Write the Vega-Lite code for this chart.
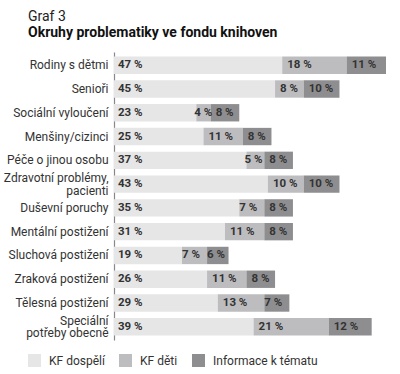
{
  "$schema": "https://vega.github.io/schema/vega-lite/v6.json",
  "autosize": "none",
  "width": 272,
  "height": 288,
  "padding": {"left": 114, "top": 52, "right": 14, "bottom": 34},
  "background": "white",
  "title": {
    "text": "Graf 3",
    "subtitle": "Okruhy problematiky ve fondu knihoven",
    "anchor": "start",
    "frame": "group",
    "dx": -86,
    "offset": 12,
    "font": "Roboto",
    "fontSize": 14,
    "fontWeight": "normal",
    "color": "#222",
    "subtitleFont": "Roboto",
    "subtitleFontSize": 14,
    "subtitleFontWeight": "bold",
    "subtitleColor": "#111",
    "subtitlePadding": 2
  },
  "config": {"view": {"stroke": null}, "font": "Roboto"},
  "data": {
    "values": [
      {"category": "Rodiny s dětmi", "series": "KF dospělí", "order": 1, "value": 47},
      {"category": "Rodiny s dětmi", "series": "KF děti", "order": 2, "value": 18},
      {"category": "Rodiny s dětmi", "series": "Informace k tématu", "order": 3, "value": 11},
      {"category": "Senioři", "series": "KF dospělí", "order": 1, "value": 45},
      {"category": "Senioři", "series": "KF děti", "order": 2, "value": 8},
      {"category": "Senioři", "series": "Informace k tématu", "order": 3, "value": 10},
      {"category": "Sociální vyloučení", "series": "KF dospělí", "order": 1, "value": 23},
      {"category": "Sociální vyloučení", "series": "KF děti", "order": 2, "value": 4},
      {"category": "Sociální vyloučení", "series": "Informace k tématu", "order": 3, "value": 8},
      {"category": "Menšiny/cizinci", "series": "KF dospělí", "order": 1, "value": 25},
      {"category": "Menšiny/cizinci", "series": "KF děti", "order": 2, "value": 11},
      {"category": "Menšiny/cizinci", "series": "Informace k tématu", "order": 3, "value": 8},
      {"category": "Péče o jinou osobu", "series": "KF dospělí", "order": 1, "value": 37},
      {"category": "Péče o jinou osobu", "series": "KF děti", "order": 2, "value": 5},
      {"category": "Péče o jinou osobu", "series": "Informace k tématu", "order": 3, "value": 8},
      {"category": "Zdravotní problémy, pacienti", "series": "KF dospělí", "order": 1, "value": 43},
      {"category": "Zdravotní problémy, pacienti", "series": "KF děti", "order": 2, "value": 10},
      {"category": "Zdravotní problémy, pacienti", "series": "Informace k tématu", "order": 3, "value": 10},
      {"category": "Duševní poruchy", "series": "KF dospělí", "order": 1, "value": 35},
      {"category": "Duševní poruchy", "series": "KF děti", "order": 2, "value": 7},
      {"category": "Duševní poruchy", "series": "Informace k tématu", "order": 3, "value": 8},
      {"category": "Mentální postižení", "series": "KF dospělí", "order": 1, "value": 31},
      {"category": "Mentální postižení", "series": "KF děti", "order": 2, "value": 11},
      {"category": "Mentální postižení", "series": "Informace k tématu", "order": 3, "value": 8},
      {"category": "Sluchová postižení", "series": "KF dospělí", "order": 1, "value": 19},
      {"category": "Sluchová postižení", "series": "KF děti", "order": 2, "value": 7},
      {"category": "Sluchová postižení", "series": "Informace k tématu", "order": 3, "value": 6},
      {"category": "Zraková postižení", "series": "KF dospělí", "order": 1, "value": 26},
      {"category": "Zraková postižení", "series": "KF děti", "order": 2, "value": 11},
      {"category": "Zraková postižení", "series": "Informace k tématu", "order": 3, "value": 8},
      {"category": "Tělesná postižení", "series": "KF dospělí", "order": 1, "value": 29},
      {"category": "Tělesná postižení", "series": "KF děti", "order": 2, "value": 13},
      {"category": "Tělesná postižení", "series": "Informace k tématu", "order": 3, "value": 7},
      {"category": "Speciální potřeby obecně", "series": "KF dospělí", "order": 1, "value": 39},
      {"category": "Speciální potřeby obecně", "series": "KF děti", "order": 2, "value": 21},
      {"category": "Speciální potřeby obecně", "series": "Informace k tématu", "order": 3, "value": 12}
    ]
  },
  "transform": [
    {"stack": "value", "groupby": ["category"], "sort": [{"field": "order", "order": "ascending"}], "as": ["v0", "v1"]}
  ],
  "encoding": {
    "y": {
      "field": "category",
      "type": "nominal",
      "sort": null,
      "title": null,
      "scale": {"paddingInner": 0.27, "paddingOuter": 0.19},
      "axis": {
        "ticks": false,
        "domainColor": "#888",
        "domainWidth": 1.2,
        "labelPadding": 6,
        "labelFontSize": 12,
        "labelColor": "#333",
        "labelLineHeight": 12.5,
        "labelLimit": 200,
        "labelOffset": {"condition": {"test": "datum.value == 'Zdravotní problémy, pacienti' || datum.value == 'Speciální potřeby obecně'", "value": -6}, "value": 0},
        "labelExpr": "datum.label == 'Zdravotní problémy, pacienti' ? ['Zdravotní problémy,', 'pacienti'] : datum.label == 'Speciální potřeby obecně' ? ['Speciální', 'potřeby obecně'] : datum.label"
      }
    }
  },
  "layer": [
    {
      "mark": {"type": "bar"},
      "encoding": {
        "x": {"field": "v0", "type": "quantitative", "scale": {"domain": [0, 76], "nice": false}, "axis": null},
        "x2": {"field": "v1"},
        "color": {
          "field": "series",
          "type": "nominal",
          "sort": ["KF dospělí", "KF děti", "Informace k tématu"],
          "scale": {"domain": ["KF dospělí", "KF děti", "Informace k tématu"], "range": ["#e6e6e7", "#bdbdbf", "#8e8e90"]},
          "legend": {
            "title": null,
            "orient": "none",
            "direction": "horizontal",
            "legendX": -86,
            "legendY": 302,
            "padding": 0,
            "symbolType": "square",
            "symbolSize": 169,
            "symbolStrokeWidth": 0,
            "labelFontSize": 12,
            "labelColor": "#333",
            "labelOffset": 8,
            "columnPadding": 14
          }
        }
      }
    },
    {
      "mark": {
        "type": "text",
        "align": "left",
        "fontSize": 11.5,
        "fontWeight": "bold",
        "color": "#333",
        "dx": {"expr": "datum.order == 1 ? 4 : datum.value <= 5 ? -2 : datum.value <= 7 ? 0 : 5"},
        "text": {"expr": "datum.value + ' %'"}
      },
      "encoding": {
        "x": {"field": "v0", "type": "quantitative"}
      }
    }
  ]
}
